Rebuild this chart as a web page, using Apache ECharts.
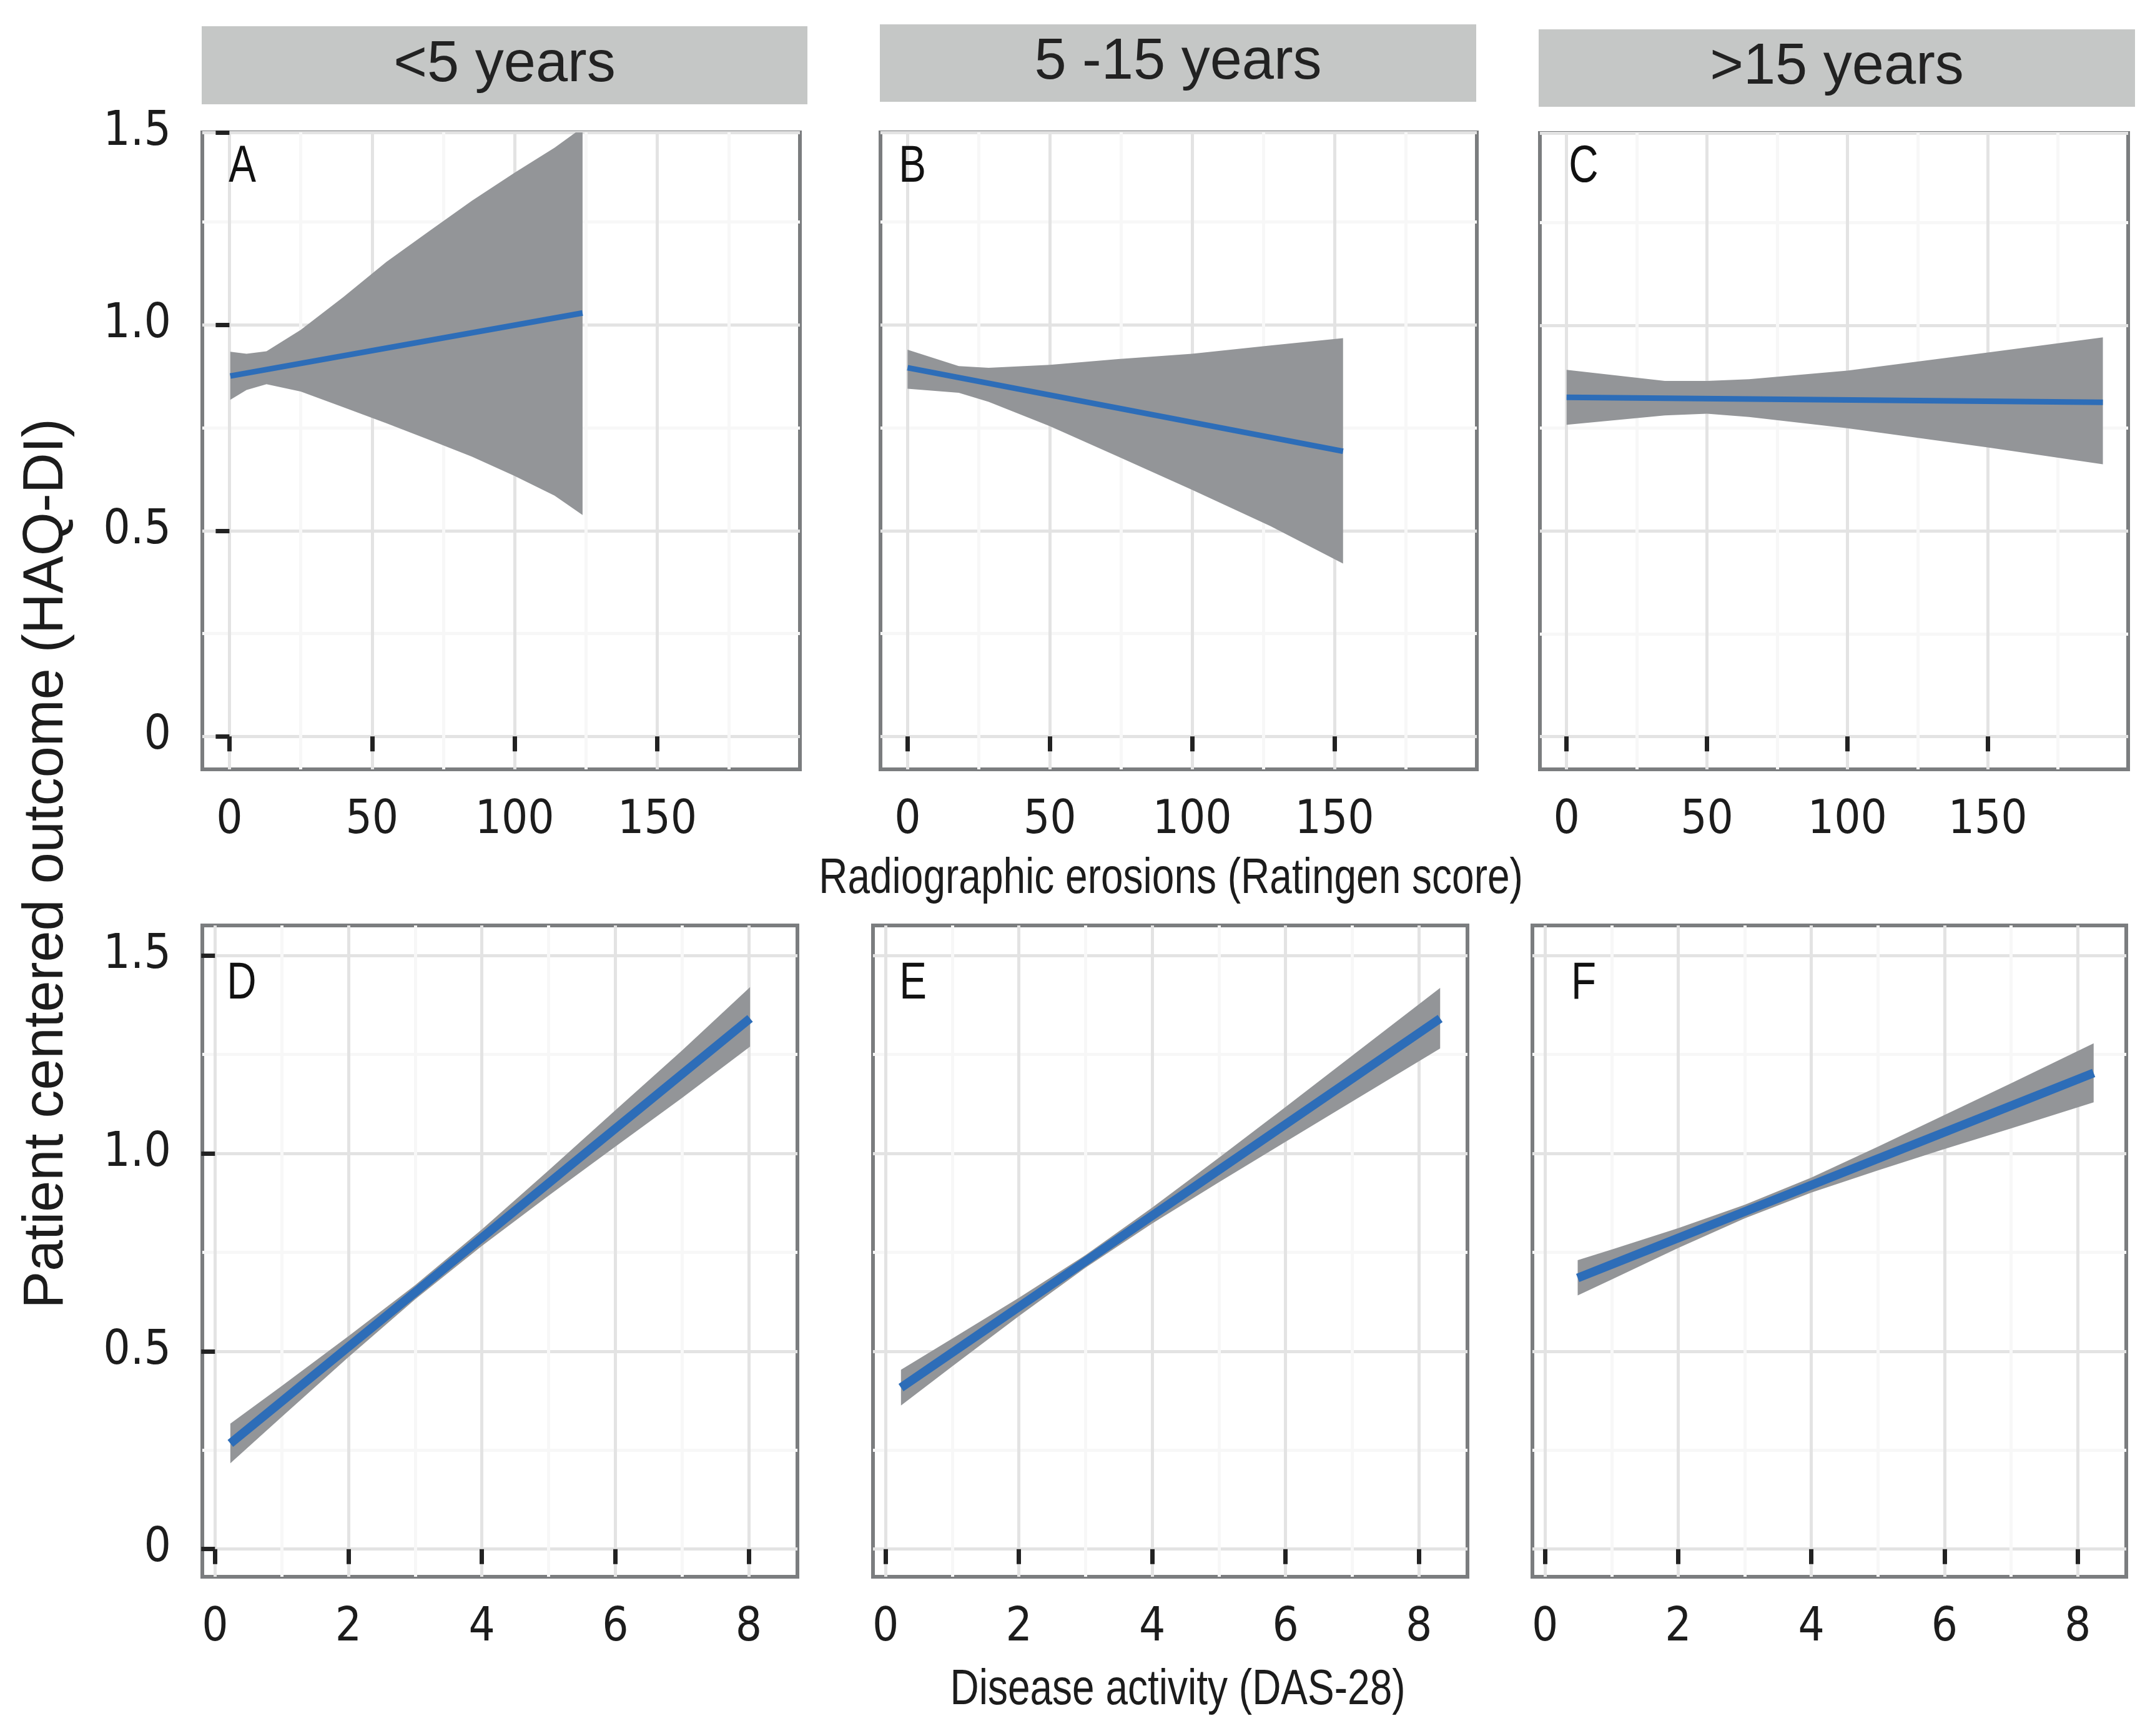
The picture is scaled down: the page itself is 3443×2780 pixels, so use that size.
<!DOCTYPE html>
<html><head><meta charset="utf-8">
<script src="https://cdn.jsdelivr.net/npm/echarts@6/dist/echarts.min.js"></script>
<style>html,body{margin:0;padding:0;background:#fff}#c{width:3443px;height:2780px}</style>
</head><body><div id="c"></div>
<script>
// ---------------- data ----------------
const facetLabels = ['<5 years', '5 -15 years', '>15 years'];
const panelLetters = ['A', 'B', 'C', 'D', 'E', 'F'];
const erosionTicks = [0, 50, 100, 150];
const dasTicks = [0, 2, 4, 6, 8];
const haqTicksTop = [0, 0.5, 1.0, 1.468];   // top tick sits on the panel edge, labelled 1.5
const haqTicksBottom = [0, 0.5, 1.0, 1.5];
const xTitleTop = 'Radiographic erosions (Ratingen score)';
const xTitleBottom = 'Disease activity (DAS-28)';
const yTitle = 'Patient centered outcome (HAQ-DI)';

// Panel A: <5 years, erosions
const aRibbonX = [0.3, 6, 13, 25, 40, 55, 70, 85, 100, 114, 123.8];
const aLower   = [0.818, 0.842, 0.856, 0.838, 0.800, 0.761, 0.721, 0.680, 0.633, 0.585, 0.538];
const aUpper   = [0.935, 0.930, 0.936, 0.988, 1.068, 1.153, 1.228, 1.302, 1.370, 1.431, 1.480];
const aFitX = [0.3, 123.8];
const aFitY = [0.876, 1.029];

// Panel B: 5-15 years, erosions
const bRibbonX = [0, 18, 28.5, 50, 74, 100, 127.5, 153];
const bLower   = [0.845, 0.835, 0.813, 0.754, 0.680, 0.599, 0.511, 0.420];
const bUpper   = [0.940, 0.900, 0.896, 0.903, 0.917, 0.930, 0.950, 0.968];
const bFitX = [0, 153];
const bFitY = [0.896, 0.693];

// Panel C: >15 years, erosions
const cRibbonX = [0, 35, 50, 65, 100, 150, 191];
const cLower   = [0.758, 0.781, 0.785, 0.777, 0.750, 0.703, 0.662];
const cUpper   = [0.892, 0.865, 0.865, 0.869, 0.890, 0.934, 0.971];
const cFitX = [0, 191];
const cFitY = [0.825, 0.813];

// Panel D: <5 years, DAS-28
const dRibbonX = [0.23, 1, 2, 3, 4, 5, 6, 7, 8.02];
const dLower   = [0.217, 0.334, 0.485, 0.631, 0.766, 0.893, 1.017, 1.140, 1.270];
const dUpper   = [0.317, 0.412, 0.538, 0.667, 0.808, 0.957, 1.109, 1.260, 1.420];
const dFitX = [0.23, 8.02];
const dFitY = [0.267, 1.341];

// Panel E: 5-15 years, DAS-28
const eRibbonX = [0.23, 1, 2, 3, 4, 5, 6, 7, 8.32];
const eLower   = [0.363, 0.462, 0.589, 0.711, 0.823, 0.927, 1.029, 1.131, 1.265];
const eUpper   = [0.453, 0.532, 0.635, 0.743, 0.863, 0.989, 1.117, 1.247, 1.418];
const eFitX = [0.23, 8.32];
const eFitY = [0.408, 1.341];

// Panel F: >15 years, DAS-28
const fRibbonX = [0.49, 1, 2, 3, 4, 5, 6, 7, 8.24];
const fLower   = [0.641, 0.681, 0.761, 0.836, 0.901, 0.957, 1.011, 1.063, 1.129];
const fUpper   = [0.730, 0.757, 0.811, 0.870, 0.939, 1.017, 1.097, 1.177, 1.278];
const fFitX = [0.49, 8.24];
const fFitY = [0.685, 1.203];

// ---------------- styling / layout ----------------
const NARROW = '"Liberation Sans Narrow", "Arial Narrow", "DejaVu Sans Condensed", sans-serif';
const SANS = '"Liberation Sans", Arial, Helvetica, sans-serif';
const TXT = '#1c1c1c';
const RIBBON = '#939598';
const BLUE = '#2d6db8';
const BORDER = '#7b7d7f';

const panels = [
  {rx: aRibbonX, lo: aLower, hi: aUpper, fx: aFitX, fy: aFitY, row: 0, col: 0},
  {rx: bRibbonX, lo: bLower, hi: bUpper, fx: bFitX, fy: bFitY, row: 0, col: 1},
  {rx: cRibbonX, lo: cLower, hi: cUpper, fx: cFitX, fy: cFitY, row: 0, col: 2},
  {rx: dRibbonX, lo: dLower, hi: dUpper, fx: dFitX, fy: dFitY, row: 1, col: 0},
  {rx: eRibbonX, lo: eLower, hi: eUpper, fx: eFitX, fy: eFitY, row: 1, col: 1},
  {rx: fRibbonX, lo: fLower, hi: fUpper, fx: fFitX, fy: fFitY, row: 1, col: 2}
];

const gridBoxes = [
  {left: 324, top: 212, width: 957, height: 1020},
  {left: 1410, top: 212, width: 955, height: 1020},
  {left: 2466, top: 213, width: 942, height: 1019},
  {left: 324, top: 1482, width: 953, height: 1043},
  {left: 1398, top: 1482, width: 952, height: 1043},
  {left: 2454, top: 1482, width: 951, height: 1043}
];

const stripBoxes = [
  {x: 323, y: 42, w: 970, h: 125},
  {x: 1409, y: 39, w: 955, h: 124},
  {x: 2464, y: 47, w: 955, h: 124}
];

const letterPos = [[388, 268], [1461, 268], [2536, 268], [387, 1576], [1462, 1576], [2536, 1576]];
const xTitlePos = [[1875, 1408], [1886, 2707]];

const fmtY = v => (Math.abs(v) < 1e-9 ? '0' : v.toFixed(1));

const grids = [], xAxes = [], yAxes = [], series = [];

panels.forEach((p, i) => {
  const g = gridBoxes[i];
  grids.push({
    left: g.left, top: g.top, width: g.width, height: g.height,
    show: true, borderColor: BORDER, borderWidth: 6, backgroundColor: '#ffffff',
    containLabel: false
  });
  const top = p.row === 0;
  const xTicks = top ? erosionTicks : dasTicks;
  xAxes.push({
    type: 'value', gridIndex: i,
    min: top ? -9.5 : -0.19,
    max: top ? 200 : 8.73,
    splitNumber: top ? 4 : 5,
    axisLine: {show: false},
    axisTick: {show: true, length: 24, inside: false, customValues: xTicks,
      lineStyle: {color: '#222', width: 7}},
    axisLabel: {show: true, customValues: xTicks, margin: 46,
      fontFamily: NARROW, fontSize: 74, color: TXT, formatter: v => String(v)},
    splitLine: {show: true, lineStyle: {color: '#e3e3e3', width: 5}},
    minorTick: {show: false, splitNumber: 2},
    minorSplitLine: {show: true, lineStyle: {color: '#f7f7f7', width: 5}}
  });
  const yTicks = top ? haqTicksTop : haqTicksBottom;
  const firstCol = p.col === 0;
  yAxes.push({
    type: 'value', gridIndex: i,
    min: top ? -0.08 : -0.07,
    max: top ? 1.468 : 1.576,
    splitNumber: 3,
    axisLine: {show: false},
    axisTick: {show: firstCol, length: 22, inside: false, customValues: yTicks,
      lineStyle: {color: '#222', width: 7}},
    axisLabel: {show: firstCol, customValues: yTicks, margin: 50,
      fontFamily: NARROW, fontSize: 76, color: TXT, formatter: fmtY},
    splitLine: {show: true, lineStyle: {color: '#e3e3e3', width: 5}},
    minorTick: {show: false, splitNumber: 2},
    minorSplitLine: {show: true, lineStyle: {color: '#f7f7f7', width: 5}}
  });

  // confidence ribbon, built from the arrays
  const ribbonData = p.rx.map((x, k) => [x, p.lo[k], p.hi[k]]);
  series.push({
    type: 'custom', xAxisIndex: i, yAxisIndex: i,
    data: ribbonData, clip: true, silent: true, z: 2,
    encode: {x: 0, y: [1, 2]},
    renderItem: function (params, api) {
      if (params.dataIndexInside !== 0) return null;
      const n = params.dataInsideLength;
      const up = [], lo = [];
      for (let k = 0; k < n; k++) {
        up.push(api.coord([api.value(0, k), api.value(2, k)]));
        lo.push(api.coord([api.value(0, k), api.value(1, k)]));
      }
      return {type: 'polygon', shape: {points: up.concat(lo.reverse())},
        style: {fill: RIBBON, stroke: null}};
    }
  });
  // fitted line
  series.push({
    type: 'line', xAxisIndex: i, yAxisIndex: i,
    data: p.fx.map((x, k) => [x, p.fy[k]]),
    showSymbol: false, symbol: 'none', clip: true, z: 3, silent: true,
    lineStyle: {color: BLUE, width: top ? 9 : 14, cap: 'butt'}
  });
});

const centerStyle = {textAlign: 'center', textVerticalAlign: 'middle', align: 'center', verticalAlign: 'middle'};
const graphic = [];
stripBoxes.forEach((s, j) => {
  graphic.push({type: 'rect', shape: {x: s.x, y: s.y, width: s.w, height: s.h},
    style: {fill: '#c5c7c6'}, silent: true, z: 10});
  graphic.push({type: 'text', x: s.x + s.w / 2, y: s.y + s.h / 2, z: 11, silent: true,
    style: Object.assign({text: facetLabels[j], font: '92px ' + SANS, fill: '#222'}, centerStyle)});
});
panelLetters.forEach((L, j) => {
  graphic.push({type: 'text', x: letterPos[j][0], y: letterPos[j][1], z: 11, silent: true,
    scaleX: 0.78,
    style: Object.assign({text: L, font: '84px ' + SANS, fill: '#111'}, centerStyle)});
});
[xTitleTop, xTitleBottom].forEach((t, j) => {
  graphic.push({type: 'text', x: xTitlePos[j][0], y: xTitlePos[j][1], z: 11, silent: true,
    scaleX: 0.8,
    style: Object.assign({text: t, font: '80px ' + SANS, fill: TXT}, centerStyle)});
});
graphic.push({type: 'text', x: 75, y: 1383, rotation: Math.PI / 2, z: 11, silent: true,
  style: Object.assign({text: yTitle, font: '90px ' + SANS, fill: TXT}, centerStyle)});

const chart = echarts.init(document.getElementById('c'), null, {renderer: 'canvas'});
chart.setOption({
  backgroundColor: '#ffffff',
  animation: false,
  grid: grids,
  xAxis: xAxes,
  yAxis: yAxes,
  series: series,
  graphic: graphic
});
</script>
</body></html>
